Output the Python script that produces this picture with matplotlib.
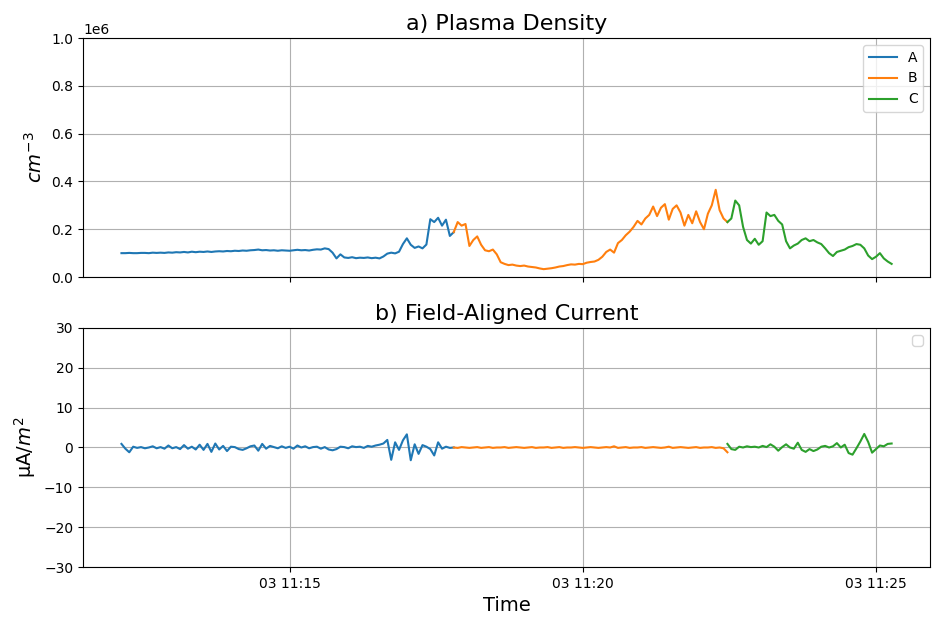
import numpy as np
import matplotlib
matplotlib.use("Agg")
import matplotlib.pyplot as plt

# sampling: one value every 4 s, segment start times (UTC)
step_s = 4
start_a = np.datetime64("2015-03-03T11:12:08")
start_b = np.datetime64("2015-03-03T11:17:48")
start_c = np.datetime64("2015-03-03T11:22:28")

# plasma density, units of 1e5 cm^-3
dens_a = [1.00, 1.00, 1.01, 1.00, 1.00, 1.01, 1.01, 1.00, 1.02, 1.01,
          1.02, 1.01, 1.03, 1.02, 1.04, 1.03, 1.05, 1.03, 1.06, 1.04,
          1.06, 1.05, 1.07, 1.05, 1.07, 1.08, 1.07, 1.09, 1.08, 1.10,
          1.09, 1.11, 1.10, 1.12, 1.13, 1.15, 1.12, 1.13, 1.11, 1.12,
          1.10, 1.12, 1.11, 1.10, 1.12, 1.14, 1.12, 1.13, 1.11, 1.14,
          1.16, 1.15, 1.20, 1.17, 1.02, 0.78, 0.95, 0.82, 0.80, 0.83,
          0.79, 0.81, 0.80, 0.82, 0.79, 0.81, 0.78, 0.86, 0.98, 1.02,
          0.99, 1.06, 1.38, 1.62, 1.35, 1.22, 1.28, 1.20, 1.36, 2.42,
          2.30, 2.48, 2.15, 2.40, 1.72, 1.88]
dens_b = [1.88, 2.30, 2.15, 2.22, 1.30, 1.55, 1.70, 1.35, 1.12, 1.08,
          1.15, 0.95, 0.62, 0.55, 0.50, 0.52, 0.48, 0.46, 0.48, 0.44,
          0.42, 0.40, 0.36, 0.33, 0.35, 0.37, 0.40, 0.44, 0.46, 0.50,
          0.53, 0.52, 0.55, 0.54, 0.60, 0.63, 0.65, 0.72, 0.85, 1.05,
          1.15, 1.02, 1.42, 1.55, 1.75, 1.90, 2.10, 2.35, 2.20, 2.45,
          2.60, 2.95, 2.55, 2.90, 3.05, 2.40, 2.85, 3.00, 2.70, 2.15,
          2.60, 2.25, 2.75, 2.30, 2.00, 2.65, 3.00, 3.65, 2.80, 2.45,
          2.30]
dens_c = [2.30, 2.45, 3.20, 3.00, 2.10, 1.55, 1.40, 1.60, 1.35, 1.50,
          2.70, 2.55, 2.60, 2.35, 2.20, 1.50, 1.20, 1.32, 1.40, 1.55,
          1.62, 1.50, 1.55, 1.45, 1.38, 1.20, 1.00, 0.88, 1.05, 1.10,
          1.15, 1.25, 1.30, 1.38, 1.35, 1.20, 0.90, 0.75, 0.85, 1.00,
          0.78, 0.65, 0.55]

# field-aligned current, uA/m^2
fac_a = [0.9, -0.3, -1.2, 0.2, -0.1, 0.1, -0.2, 0.0, 0.3, -0.2,
         0.1, -0.3, 0.5, -0.2, 0.1, -0.4, 0.6, -0.3, 0.2, -0.5,
         0.7, -0.6, 0.9, -1.1, 1.0, -0.5, 0.4, -0.9, 0.2, 0.1,
         -0.4, -0.6, -0.2, 0.3, 0.5, -0.8, 0.9, -0.3, 0.4, 0.1,
         -0.2, 0.3, -0.1, 0.2, -0.3, 0.5, 0.0, 0.3, -0.2, 0.1,
         0.2, -0.3, 0.1, -0.5, -0.7, -0.4, 0.2, 0.1, -0.2, 0.3,
         0.1, 0.2, -0.1, 0.4, 0.2, 0.5, 0.7, 1.0, 1.9, -3.1,
         1.3, -0.6, 1.8, 3.3, -3.2, 0.8, -1.6, 0.6, 0.2, -0.4,
         -2.0, 1.3, -0.3, 0.2, -0.1, 0.0]
fac_b = [0.0, -0.1, 0.1, 0.0, -0.1, 0.0, 0.1, -0.1, 0.0, 0.1,
         -0.1, 0.0, 0.0, 0.1, -0.1, 0.0, 0.1, 0.0, -0.1, 0.0,
         0.1, -0.1, 0.0, 0.0, 0.1, -0.1, 0.0, 0.1, -0.1, 0.0,
         0.0, 0.1, 0.0, -0.1, 0.0, 0.1, 0.0, -0.1, 0.0, 0.1,
         0.0, 0.3, -0.1, 0.0, 0.1, -0.1, 0.0, 0.0, 0.1, -0.1,
         0.0, 0.1, 0.0, -0.1, 0.0, 0.2, -0.1, 0.0, 0.1, 0.0,
         -0.1, 0.0, 0.1, -0.1, 0.0, 0.0, 0.1, -0.1, 0.0, -0.2,
         -1.2]
fac_c = [0.9, -0.4, -0.6, 0.2, 0.0, 0.3, 0.1, 0.2, 0.0, 0.4,
         0.1, 0.8, 0.2, -0.8, 0.1, 0.8, 0.0, -0.3, 1.2, -0.6,
         -1.1, -0.4, -0.9, -0.5, 0.2, 0.4, 0.0, 0.3, 1.1, 0.0,
         0.7, -1.4, -1.8, -0.2, 1.5, 3.4, 1.4, -1.3, -0.4, 0.5,
         0.3, 0.9, 1.0]

segments = [("A", start_a, dens_a, fac_a),
            ("B", start_b, dens_b, fac_b),
            ("C", start_c, dens_c, fac_c)]

fig, (ax1, ax2) = plt.subplots(2, 1, sharex=True, figsize=(9.32, 6.18), dpi=100)
fig.subplots_adjust(left=0.089, right=0.998, top=0.9385, bottom=0.0825, hspace=0.213)

for name, t0, dens, fac in segments:
    t = t0 + np.arange(len(dens)) * np.timedelta64(step_s, "s")
    ax1.plot(t, np.array(dens) * 1e5, label=name)
    ax2.plot(t, fac)

ax1.set_ylim(0, 1e6)
ax1.set_title("a) Plasma Density", fontsize=16)
ax1.set_ylabel("$cm^{-3}$", fontsize=14)
ax1.grid(True)
ax1.legend(loc="upper right")

ax2.set_ylim(-30, 30)
ax2.set_title("b) Field-Aligned Current", fontsize=16)
ax2.set_ylabel("µA/$m^2$", fontsize=14)
ax2.set_xlabel("Time", fontsize=14)
ax2.grid(True)
ax2.legend(handles=[], loc="upper right")

plt.savefig("out.png", dpi=100)
